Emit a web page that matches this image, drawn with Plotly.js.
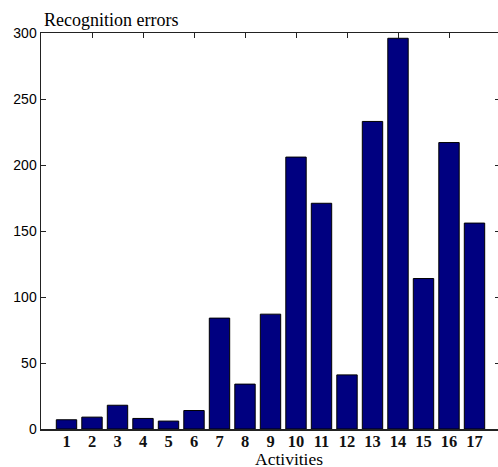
<!DOCTYPE html>
<html>
<head>
<meta charset="utf-8">
<script src="https://cdn.plot.ly/plotly-3.0.1.min.js"></script>
<style>
html,body{margin:0;padding:0;overflow:hidden;background:#fff;}
#chart{width:500px;height:467px;}
</style>
</head>
<body>
<div id="chart"></div>
<script>
const activities = [1,2,3,4,5,6,7,8,9,10,11,12,13,14,15,16,17];
const errors = [7,9,18,8,6,14,84,34,87,206,171,41,233,296,114,217,156];
const yTicks = [0,50,100,150,200,250,300];
const topTicks = [0,2,4,6,8,10,12,14,16,18];

const data = [
  {
    type: 'bar',
    x: activities,
    y: errors,
    width: 0.8,
    marker: {color: '#000080', line: {color: '#000000', width: 1}},
    hoverinfo: 'x+y'
  },
  {
    type: 'scatter', mode: 'markers',
    x: [], y: [], xaxis: 'x2', yaxis: 'y', showlegend: false, hoverinfo: 'skip'
  }
];

const layout = {
  width: 500, height: 467,
  margin: {l: 41, r: 0, t: 33, b: 38},
  paper_bgcolor: '#fff', plot_bgcolor: '#fff',
  showlegend: false,
  bargap: 0.2,
  xaxis: {
    range: [0, 18],
    tickvals: activities,
    ticktext: activities.map(String),
    ticks: '',
    showline: true, linecolor: '#222', linewidth: 1.5,
    showgrid: false, zeroline: false,
    tickfont: {family: 'Liberation Serif, Times New Roman, serif', size: 16.5, color: '#111', weight: 'bold'},
    ticklabelstandoff: -3
  },
  xaxis2: {
    overlaying: 'x', side: 'top', anchor: 'y',
    range: [0, 18],
    tickvals: topTicks,
    ticks: 'inside', ticklen: 5, tickcolor: '#222', tickwidth: 1,
    showticklabels: false,
    showline: true, linecolor: '#222', linewidth: 1.5,
    showgrid: false, zeroline: false
  },
  yaxis: {
    range: [0, 300],
    tickvals: yTicks,
    ticks: 'inside', ticklen: 5, tickcolor: '#222', tickwidth: 1,
    mirror: 'ticks',
    showline: true, linecolor: '#222', linewidth: 1.5,
    showgrid: false, zeroline: false,
    tickfont: {family: 'Liberation Sans, Arial, sans-serif', size: 14, color: '#000'}
  },
  annotations: [
    {
      text: 'Recognition errors', xref: 'paper', yref: 'paper',
      x: 0, y: 1, xanchor: 'left', yanchor: 'bottom', yshift: 2, xshift: 2,
      showarrow: false, borderpad: 0,
      font: {family: 'Liberation Serif, Times New Roman, serif', size: 18, color: '#000'}
    },
    {
      text: 'Activities', xref: 'paper', yref: 'paper',
      x: 0.541, y: 0, xanchor: 'center', yanchor: 'top', yshift: -19,
      showarrow: false, borderpad: 0,
      font: {family: 'Liberation Serif, Times New Roman, serif', size: 17.5, color: '#000'}
    }
  ]
};

Plotly.newPlot('chart', data, layout, {displayModeBar: false, staticPlot: true});
</script>
</body>
</html>
